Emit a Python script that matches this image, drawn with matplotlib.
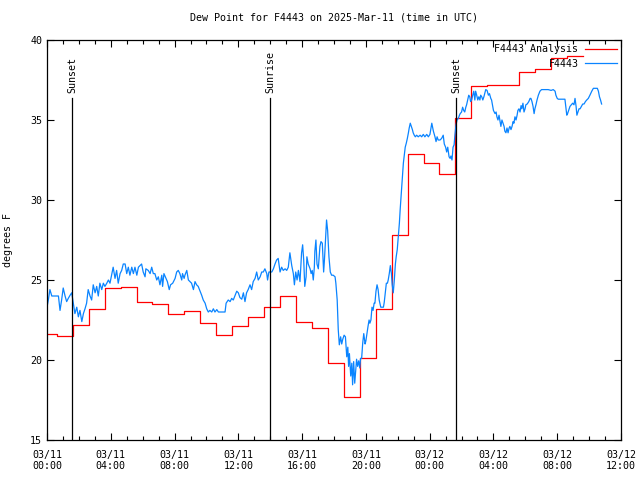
import numpy as np
import matplotlib
matplotlib.use("Agg")
import matplotlib.pyplot as plt

plt.rcParams['font.family'] = 'DejaVu Sans Mono'

# Observaciones F4443 (minutos desde 03/11 00:00 UTC, grados F)
obs_min = [0, 5, 11, 18, 30, 43, 49, 55, 61, 68, 74, 80, 87, 93, 99, 105, 112, 118, 124, 131,
           137, 143, 149, 155, 162, 168, 174, 181, 187, 193, 199, 206, 212, 218, 225, 231, 237, 243, 249, 256,
           262, 268, 275, 281, 287, 294, 300, 306, 312, 319, 325, 331, 338, 344, 350, 356, 362, 369, 372, 381,
           388, 394, 400, 406, 413, 419, 425, 432, 435, 440, 448, 453, 460, 465, 473, 482, 488, 494, 500, 507,
           510, 516, 519, 526, 532, 538, 544, 551, 557, 563, 569, 576, 582, 588, 595, 601, 607, 613, 620, 626,
           632, 639, 645, 657, 670, 674, 682, 689, 695, 701, 707, 714, 720, 726, 733, 739, 745, 751, 757, 764,
           770, 776, 783, 789, 795, 802, 808, 814, 820, 827, 830, 835, 846, 852, 858, 864, 870, 877, 883, 889,
           896, 902, 908, 914, 921, 927, 931, 936, 941, 946, 952, 958, 962, 966, 970, 975, 978, 983, 990, 994,
           998, 1002, 1006, 1008, 1012, 1016, 1021, 1027, 1031, 1036, 1041, 1044, 1049, 1052, 1056, 1061, 1066, 1071, 1077, 1084,
           1087, 1092, 1096, 1100, 1105, 1109, 1113, 1118, 1123, 1128, 1132, 1135, 1138, 1143, 1147, 1150, 1154, 1158, 1162, 1165,
           1169, 1173, 1177, 1180, 1184, 1188, 1192, 1197, 1200, 1204, 1208, 1212, 1215, 1219, 1223, 1227, 1231, 1234, 1238, 1242,
           1246, 1250, 1256, 1261, 1266, 1269, 1273, 1277, 1281, 1284, 1288, 1292, 1296, 1299, 1303, 1307, 1311, 1314, 1318, 1322,
           1326, 1329, 1333, 1337, 1341, 1345, 1348, 1352, 1356, 1360, 1363, 1367, 1371, 1375, 1378, 1382, 1386, 1391, 1397, 1404,
           1410, 1416, 1422, 1429, 1435, 1441, 1448, 1454, 1460, 1464, 1468, 1472, 1479, 1485, 1491, 1495, 1500, 1504, 1508, 1513,
           1517, 1520, 1524, 1528, 1532, 1535, 1539, 1543, 1548, 1552, 1555, 1560, 1564, 1568, 1572, 1576, 1579, 1583, 1587, 1591,
           1594, 1598, 1602, 1606, 1610, 1613, 1617, 1621, 1625, 1629, 1632, 1636, 1640, 1644, 1647, 1651, 1656, 1661, 1665, 1670,
           1673, 1680, 1686, 1690, 1693, 1697, 1701, 1705, 1708, 1712, 1716, 1720, 1723, 1727, 1731, 1735, 1739, 1742, 1746, 1750,
           1754, 1757, 1761, 1765, 1769, 1772, 1776, 1780, 1784, 1787, 1791, 1795, 1799, 1802, 1807, 1813, 1818, 1821, 1825, 1829,
           1833, 1836, 1840, 1844, 1849, 1855, 1861, 1874, 1886, 1897, 1905, 1912, 1915, 1920, 1924, 1937, 1949, 1952, 1956, 1959,
           1963, 1968, 1973, 1978, 1983, 1987, 1991, 1994, 1998, 2002, 2006, 2011, 2016, 2021, 2026, 2031, 2037, 2043, 2050, 2056,
           2066, 2071, 2075, 2079, 2083, 2087]
obs_val = [23.3, 23.75, 24.4, 24.0, 24.0, 24.0, 23.1, 23.75, 24.5, 24.0, 23.65, 23.85, 24.05, 24.2, 23.55, 22.9, 23.3, 22.7, 23.1, 22.4,
           22.9, 23.2, 23.55, 24.4, 24.0, 23.75, 24.7, 24.2, 24.6, 24.0, 24.8, 24.4, 24.8, 24.6, 24.8, 25.0, 24.8, 25.3, 25.8, 25.1,
           25.6, 24.8, 25.4, 25.6, 26.0, 26.0, 25.4, 25.8, 25.3, 25.8, 25.4, 25.8, 25.3, 25.8, 25.9, 26.0, 25.5, 25.2, 25.7, 25.6,
           25.4, 25.8, 25.4, 25.4, 25.0, 25.2, 24.7, 25.3, 24.6, 25.4, 25.1, 24.9, 24.4, 24.7, 24.8, 25.1, 25.5, 25.6, 25.4, 25.0,
           25.4, 25.1, 25.3, 25.6, 25.0, 24.9, 24.8, 24.4, 24.9, 24.7, 24.6, 24.3, 24.05, 23.75, 23.55, 23.2, 23.0, 23.1, 23.0, 23.2,
           23.0, 23.15, 23.0, 23.0, 23.0, 23.55, 23.75, 23.65, 23.85, 23.75, 24.0, 24.3, 24.2, 23.9, 23.8, 24.2, 23.65, 24.2, 24.4, 24.7,
           24.4, 24.9, 25.1, 25.5, 25.0, 25.2, 25.5, 25.5, 25.7, 25.4, 25.0, 25.5, 25.5, 25.7, 26.0, 26.25, 26.35, 25.5, 25.8, 25.6,
           25.7, 25.6, 25.8, 26.7, 25.9, 25.4, 24.7, 25.5, 25.0, 25.6, 24.9, 26.7, 27.2, 26.25, 24.6, 25.2, 26.45, 26.0, 25.7, 25.4,
           25.6, 25.0, 25.8, 26.8, 27.5, 26.0, 25.7, 27.1, 27.4, 27.3, 25.5, 26.25, 27.8, 28.75, 28.1, 26.45, 25.5, 25.3, 25.3, 25.2,
           24.8, 23.75, 21.9, 20.95, 21.45, 21.0, 21.3, 21.55, 21.45, 20.2, 20.8, 19.6, 20.4, 19.0, 19.8, 18.45, 19.9, 18.55, 19.4, 20.05,
           19.6, 19.95, 19.5, 20.1, 20.1, 21.05, 21.65, 21.0, 21.2, 21.65, 22.1, 22.5, 22.3, 22.5, 23.3, 23.1, 23.55, 23.55, 24.3, 24.7,
           24.4, 23.75, 23.3, 23.3, 23.3, 23.6, 24.2, 24.8, 24.8, 25.0, 25.4, 25.9, 25.4, 24.7, 24.2, 25.0, 26.0, 26.45, 26.9, 27.7,
           28.55, 29.4, 30.4, 31.45, 32.3, 32.9, 33.3, 33.55, 33.85, 34.2, 34.5, 34.8, 34.6, 34.4, 34.2, 34.05, 33.95, 34.05, 33.95, 34.05,
           33.95, 34.1, 33.95, 34.1, 33.95, 34.1, 34.8, 34.3, 33.95, 33.65, 33.95, 33.75, 33.75, 33.85, 34.05, 33.5, 33.3, 33.0, 33.3, 32.7,
           32.6, 32.75, 32.5, 33.3, 33.45, 34.05, 34.7, 35.0, 35.1, 35.3, 35.4, 35.5, 35.8, 35.6, 35.5, 35.8, 35.95, 36.25, 36.55, 36.45,
           36.15, 36.25, 36.55, 36.8, 36.25, 36.8, 36.55, 36.25, 36.45, 36.25, 36.55, 36.45, 36.25, 36.45, 36.65, 36.9, 36.85, 36.55, 36.65, 36.35,
           36.25, 35.6, 35.4, 35.5, 35.2, 35.0, 35.3, 34.9, 34.6, 35.0, 34.8, 34.6, 34.3, 34.2, 34.5, 34.2, 34.5, 34.6, 34.4, 34.6,
           34.9, 34.8, 35.2, 35.0, 35.3, 35.6, 35.7, 35.5, 35.9, 35.7, 36.05, 35.5, 35.7, 35.95, 36.0, 36.15, 36.35, 36.35, 36.15, 35.85,
           35.4, 35.7, 35.95, 36.25, 36.55, 36.8, 36.9, 36.9, 36.9, 36.85, 36.9, 36.8, 36.55, 36.35, 36.3, 36.3, 36.3, 35.85, 35.3, 35.4,
           35.6, 35.85, 35.95, 36.05, 35.95, 36.35, 35.85, 35.3, 35.5, 35.7, 35.7, 35.85, 36.0, 36.0, 36.15, 36.25, 36.35, 36.55, 36.8, 36.98,
           36.98, 36.98, 36.8, 36.45, 36.25, 36.0]

# Analisis F4443 (escalones horarios)
ana_min = [0, 37, 97, 157, 217, 277, 337, 397, 457, 517, 577, 637, 697, 757, 817, 877, 937, 997,
           1057, 1117, 1177, 1237, 1297, 1357, 1417, 1477, 1537, 1597, 1657, 1717, 1777, 1837, 1897, 1957, 2017]
ana_val = [21.6, 21.5, 22.2, 23.2, 24.5, 24.55, 23.6, 23.5, 22.9, 23.05, 22.3, 21.55, 22.15, 22.7, 23.3, 24.0, 22.4, 22.0,
           19.8, 17.7, 20.1, 23.2, 27.8, 32.9, 32.3, 31.6, 35.1, 37.1, 37.2, 37.2, 38.0, 38.2, 38.85, 39.0, 39.0]

# Sol
sun_min = [94, 840, 1540]
sun_lbl = ["Sunset", "Sunrise", "Sunset"]

xtick_lbl = ["03/11\n00:00", "03/11\n04:00", "03/11\n08:00", "03/11\n12:00", "03/11\n16:00",
             "03/11\n20:00", "03/12\n00:00", "03/12\n04:00", "03/12\n08:00", "03/12\n12:00"]

fig = plt.figure(figsize=(6.4, 4.8), dpi=100)
ax = fig.add_axes([47/640, 40/480, 574/640, 400/480])

ax.plot(np.array(ana_min) / 60, ana_val, drawstyle='steps-post', color='#ff0000', lw=0.9,
        label='F4443 Analysis')
ax.plot(np.array(obs_min) / 60, obs_val, color='#0a84ff', lw=0.9, label='F4443')

for m, txt in zip(sun_min, sun_lbl):
    ax.plot([m / 60, m / 60], [15, 36.4], color='black', lw=0.9)
    ax.text(m / 60, 36.7, txt, rotation=90, ha='center', va='bottom', fontsize=7.2)

ax.set_xlim(0, 36)
ax.set_ylim(15, 40)
ax.set_xticks(np.arange(0, 37, 4))
ax.set_xticklabels(xtick_lbl)
ax.set_xticks(np.arange(0, 37, 1), minor=True)
ax.set_yticks(np.arange(15, 41, 5))
ax.tick_params(which='both', direction='in', top=True, right=True, labelsize=7.2, width=0.8)
ax.tick_params(which='major', length=5)
ax.tick_params(which='minor', length=3)
ax.tick_params(axis='x', pad=7)
for s in ax.spines.values():
    s.set_linewidth(0.9)

ax.set_title('Dew Point for F4443 on 2025-Mar-11 (time in UTC)', fontsize=7.2, pad=14)
ax.set_ylabel('degrees F', fontsize=7.2, labelpad=12)

ax.legend(loc='upper right', frameon=False, markerfirst=False, fontsize=7.2,
          handlelength=3.2, handletextpad=0.6, labelspacing=0.45, borderaxespad=0.05)

plt.savefig('out.png', dpi=100)
